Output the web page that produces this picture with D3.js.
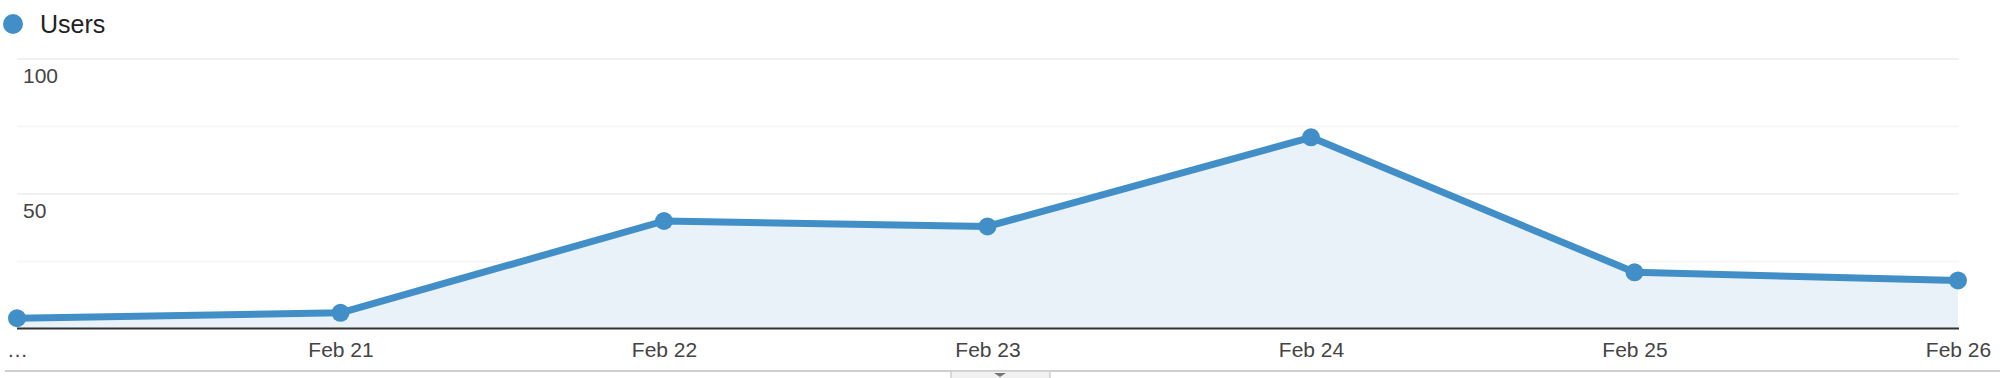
<!DOCTYPE html>
<html>
<head>
<meta charset="utf-8">
<script src="https://cdn.jsdelivr.net/npm/d3@7"></script>
<style>
  body { margin: 0; background: #fff; }
  svg { display: block; font-family: Arial, "Liberation Sans", Helvetica, sans-serif; }
</style>
</head>
<body>
<script>
// chart data
var days = ["…", "Feb 21", "Feb 22", "Feb 23", "Feb 24", "Feb 25", "Feb 26"];
var users = [4, 6, 40, 38, 71, 21, 18];
var gridTicks = [25, 50, 75, 100];
var labelTicks = [50, 100];
var seriesName = "Users";

var width = 2000,
    height = 378,
    lineColor = "#428fc8",
    areaColor = "#e9f2f9";

var svg = d3.select("body").append("svg")
    .attr("width", width)
    .attr("height", height);

var x = d3.scalePoint()
    .domain(d3.range(days.length))
    .range([17, 1958]);

var y = d3.scaleLinear()
    .domain([0, 100])
    .range([329, 59]);

// legend
svg.append("circle")
    .attr("cx", 13)
    .attr("cy", 24)
    .attr("r", 10)
    .attr("fill", lineColor);

svg.append("text")
    .attr("x", 40)
    .attr("y", 33)
    .attr("font-size", 25)
    .attr("fill", "#222")
    .text(seriesName);

// gridlines
svg.append("g")
    .selectAll("line")
    .data(gridTicks)
    .enter().append("line")
    .attr("x1", x.range()[0])
    .attr("x2", x.range()[1] + 1)
    .attr("y1", function (d) { return y(d); })
    .attr("y2", function (d) { return y(d); })
    .attr("stroke", function (d) { return labelTicks.indexOf(d) >= 0 ? "#ececec" : "#f4f4f4"; })
    .attr("stroke-width", 1.5);

// area under the line
var area = d3.area()
    .x(function (d, i) { return x(i); })
    .y0(y(0))
    .y1(function (d) { return y(d); });

svg.append("path")
    .datum(users)
    .attr("d", area)
    .attr("fill", areaColor);

// y labels (inside plot)
svg.append("g")
    .selectAll("text")
    .data(labelTicks)
    .enter().append("text")
    .attr("x", 23)
    .attr("y", function (d) { return y(d) + 24; })
    .attr("font-size", 21)
    .attr("fill", "#444")
    .text(function (d) { return d; });

// x axis
var xAxis = svg.append("g")
    .attr("transform", "translate(0," + 329 + ")")
    .call(d3.axisBottom(x)
        .tickSize(0)
        .tickPadding(0)
        .tickFormat(function (i) { return days[i]; }));

xAxis.select(".domain").remove();
xAxis.selectAll("text")
    .attr("font-family", null)
    .attr("dy", null)
    .attr("y", 28)
    .attr("font-size", 21)
    .attr("fill", "#444");
xAxis.attr("font-family", null).attr("font-size", null);

svg.append("line")
    .attr("x1", x.range()[0])
    .attr("x2", x.range()[1] + 1)
    .attr("y1", 328.5)
    .attr("y2", 328.5)
    .attr("stroke", "#333")
    .attr("stroke-width", 2);

// line + points
var line = d3.line()
    .x(function (d, i) { return x(i); })
    .y(function (d) { return y(d); });

svg.append("path")
    .datum(users)
    .attr("d", line)
    .attr("fill", "none")
    .attr("stroke", lineColor)
    .attr("stroke-width", 7)
    .attr("stroke-linejoin", "round");

svg.append("g")
    .selectAll("circle")
    .data(users)
    .enter().append("circle")
    .attr("cx", function (d, i) { return x(i); })
    .attr("cy", function (d) { return y(d); })
    .attr("r", 9)
    .attr("fill", lineColor);

// bottom rule and drag handle
svg.append("line")
    .attr("x1", 5)
    .attr("x2", width)
    .attr("y1", 371)
    .attr("y2", 371)
    .attr("stroke", "#cfcfcf")
    .attr("stroke-width", 2);

svg.append("rect")
    .attr("x", 951)
    .attr("y", 371)
    .attr("width", 99)
    .attr("height", 10)
    .attr("fill", "#f1f1f1")
    .attr("stroke", "#cfcfcf")
    .attr("stroke-width", 1.5);

svg.append("path")
    .attr("d", "M994,373 L1006,373 L1000,377 Z")
    .attr("fill", "#777");
</script>
</body>
</html>
